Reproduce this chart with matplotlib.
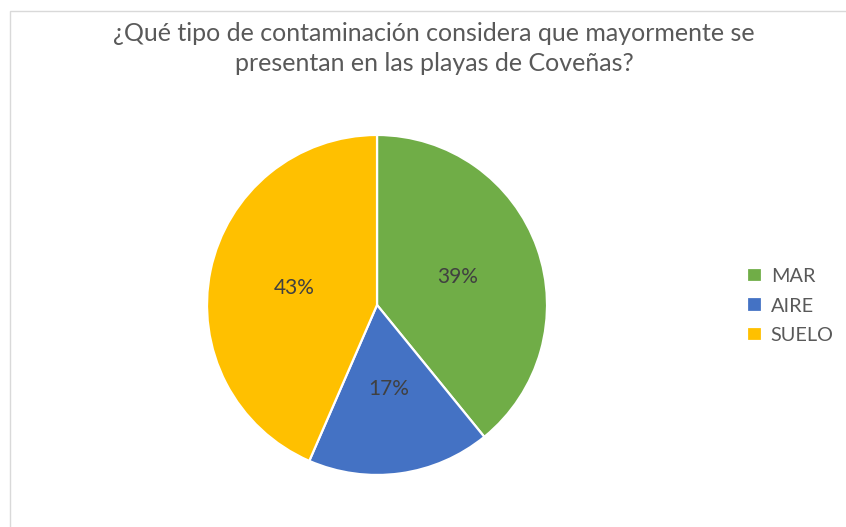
import matplotlib
matplotlib.use("Agg")
import matplotlib.pyplot as plt
from matplotlib.patches import Rectangle

categories = ["MAR", "AIRE", "SUELO"]
counts = [9, 4, 10]
colors = ["#70AD47", "#4472C4", "#FFC000"]

title = "¿Qué tipo de contaminación considera que mayormente se\npresentan en las playas de Coveñas?"

plt.rcParams['font.family'] = ['Lato', 'DejaVu Sans']
txt = "#404040"

fig = plt.figure(figsize=(8.46, 5.27), dpi=100)
# chart frame
fig.patches.append(Rectangle((10 / 846, -0.1), 1.1, (527 - 11) / 527 + 0.1,
                             transform=fig.transFigure, fill=False,
                             edgecolor="#d9d9d9", linewidth=1.0))

ax = fig.add_axes([0.2447, 0.0987, 0.4019, 0.6452])
wedges, texts, autotexts = ax.pie(
    counts, colors=colors, startangle=90, counterclock=False,
    autopct=lambda p: f"{p:.0f}%", pctdistance=0.5,
    wedgeprops=dict(edgecolor="white", linewidth=1.6),
    textprops=dict(color=txt, fontsize=15))
ax.set_xlim(-1, 1)
ax.set_ylim(-1, 1)
ax.set_aspect("equal")

fig.text(434 / 846, 1 - 48.5 / 527, title, ha="center", va="center",
         fontsize=18, color="#595959", linespacing=1.38)

fig.legend(wedges, categories, loc="center left",
           bbox_to_anchor=(729 / 846, 1 - 306 / 527), frameon=False,
           fontsize=14.3, labelcolor="#595959", handlelength=0.75,
           handleheight=0.75, handletextpad=0.45, labelspacing=0.62)

fig.savefig("out.png", dpi=100)
